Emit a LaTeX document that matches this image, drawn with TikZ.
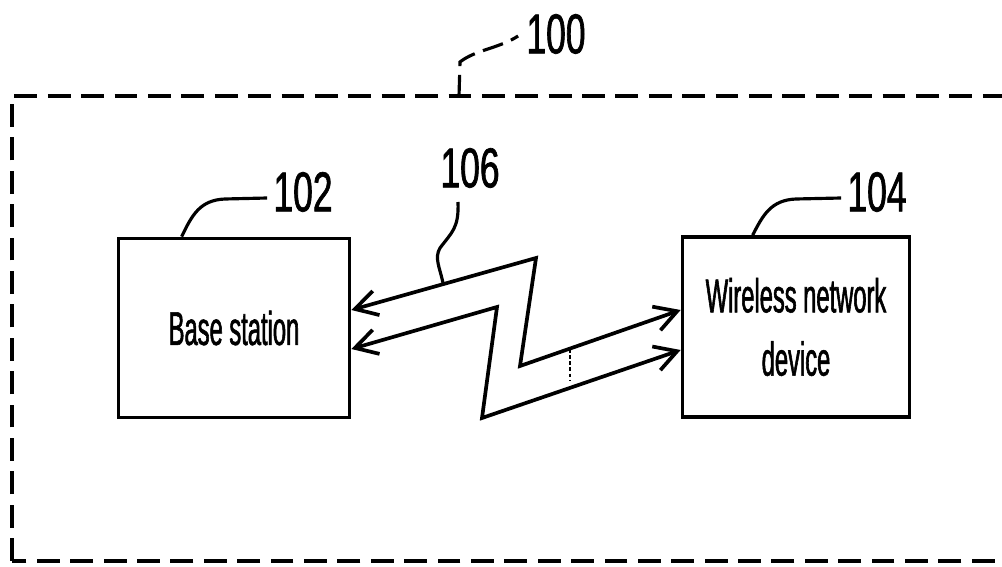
\documentclass[tikz,border=0pt]{standalone}
\usepackage{fontspec}
\setmainfont{Liberation Sans}[FakeStretch=0.5, FakeBold=1.2]
\newfontfamily\numfont{Liberation Sans}[FakeStretch=0.63, FakeBold=1.2]
\usepackage{tikz}
\usetikzlibrary{positioning, arrows.meta, calc}

\begin{document}
\begin{tikzpicture}[
  x=0.2mm, y=-0.2mm,
  block/.style  ={rectangle, draw, line width=2.1pt, inner sep=0pt,
                  align=center, font=\fontsize{27}{36}\selectfont},
  refnum/.style ={inner sep=0pt, font=\numfont\fontsize{32}{36}\selectfont},
  leader/.style ={line width=1.8pt},
  link/.style   ={{Straight Barb[length=4.4mm, width=5mm]}-{Straight Barb[length=4.4mm, width=5mm]},
                  line width=2.1pt, line join=miter},
  system/.style ={draw, line width=2.2pt, dash pattern=on 13pt off 6pt}
]
\path[use as bounding box] (0,0) rectangle (1002,567);
\clip (0,0) rectangle (1002,567);

% ---------- Boundary ----------
\draw[system] (12,561) rectangle (1040,96);

% ---------- Blocks ----------
\node[block, minimum width=231*0.2mm, minimum height=179*0.2mm] (bs)
      at (234,328) {Base station};
\node[block, minimum width=227*0.2mm, minimum height=180*0.2mm] (wnd)
      at (796,327) {Wireless network\\device};

% ---------- Reference numerals ----------
\node[refnum] (n100) at (556,34)  {100};
\node[refnum] (n102) at (303,192) {102};
\node[refnum] (n104) at (877,192) {104};
\node[refnum] (n106) at (470,168) {106};

% ---------- Wireless links ----------
\draw[link] ($(bs.east)+(0,-18)$) -- (536,258) -- (520,366) -- ($(wnd.west)+(0,-17)$);
\draw[link] ($(bs.east)+(0,21)$) -- (497,307) -- (482,418) -- ($(wnd.west)+(0,23)$);
\draw[line width=1.4pt, dash pattern=on 2pt off 1.5pt] (570,349) -- (570,380);

% ---------- Leaders ----------
\draw[leader] ($(bs.north west)+(65,0)$) .. controls (192,215) and (200,200) .. (225,199)
      -- ($(n102.west)+(-6,6)$);
\draw[leader] ($(wnd.north west)+(72,0)$) .. controls (763,215) and (771,200) .. (796,199)
      -- ($(n104.west)+(-6,6)$);
\draw[leader] (443,283) .. controls (440,268) and (434,258) .. (440,248)
      .. controls (452,232) and (459,228) .. (458,202);
\draw[leader, dash pattern=on 12pt off 5pt] (459,96) -- (460,62)
      .. controls (475,50) and (500,48) .. ($(n100.west)+(-8,2)$);

\end{tikzpicture}
\end{document}
